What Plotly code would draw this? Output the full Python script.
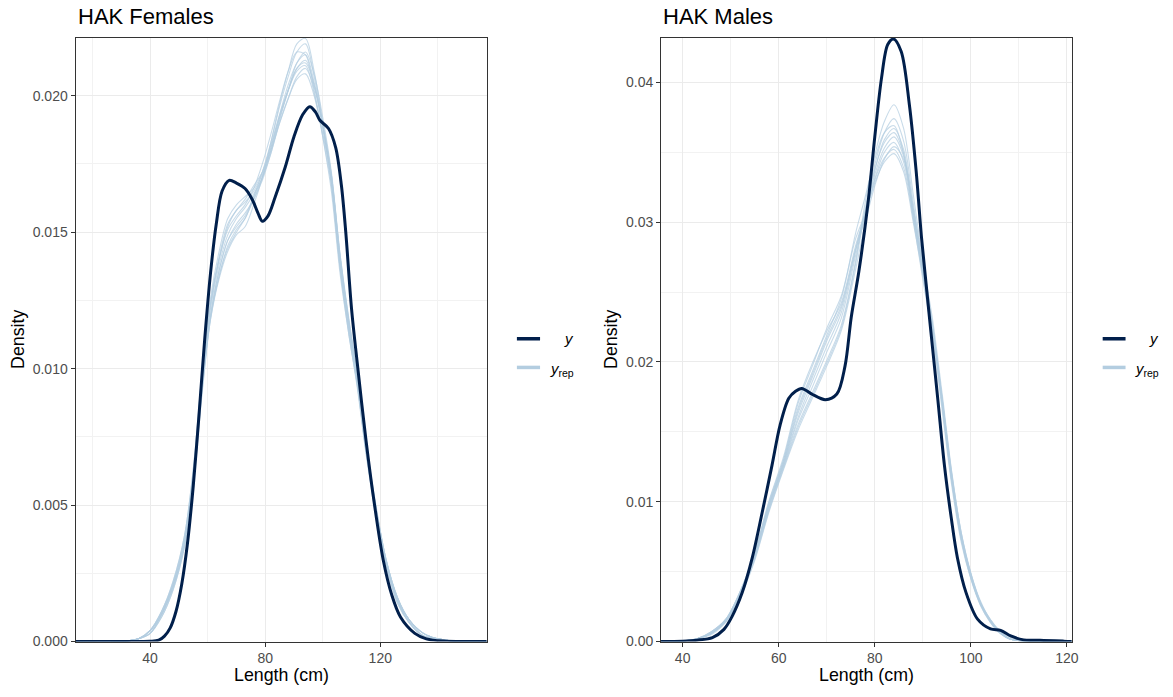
import plotly.graph_objects as go

# ---------------- data: HAK Females ----------------
fem_y_x = [14.1, 30, 40, 43, 45, 47, 49, 51, 53, 55, 57, 59, 61, 63, 65, 67.5, 70, 73, 75.5, 77.5,
           79, 81, 83.5, 87, 90, 93, 95.5, 97.5, 99, 102, 104.5, 106.5, 108, 110, 112, 115, 118,
           121, 124, 127, 132, 136, 142, 157]
fem_y = [0, 0, 0.00001, 0.00005, 0.0002, 0.0005, 0.0011, 0.0021, 0.0036, 0.0057, 0.0083, 0.0111,
         0.0135, 0.0153, 0.0165, 0.0169, 0.0168, 0.0166, 0.0162, 0.0157, 0.0154, 0.0156, 0.0163,
         0.0174, 0.0185, 0.0193, 0.0196, 0.0194, 0.0191, 0.0188, 0.0181, 0.0167, 0.0150, 0.0122,
         0.0102, 0.0074, 0.0050, 0.0030, 0.0017, 0.0009, 0.0003, 0.0001, 0.00002, 0]

fem_rep_x = [14.1, 30, 36, 40, 44, 48, 52, 55, 58, 61, 64, 67, 70, 73, 76, 79, 82, 85, 88, 91, 94,
             97, 100, 103, 106, 109, 112, 115, 118, 122, 126, 130, 135, 140, 147, 157]
fem_rep_a = [0, 0, 0.0001, 0.0004, 0.0011, 0.0021, 0.0038, 0.0061, 0.0093, 0.0118, 0.0133, 0.0143, 0.0149, 0.0152, 0.0160, 0.0170, 0.0183, 0.0197, 0.0209, 0.0219, 0.0221, 0.0209, 0.0190, 0.0168, 0.0138, 0.0114, 0.0094, 0.0070, 0.0050, 0.0029, 0.0015, 0.0008, 0.0003, 0.0001, 0, 0]
fem_rep_b = [0, 0, 0.0001, 0.0004, 0.0010, 0.0020, 0.0036, 0.0059, 0.0095, 0.0124, 0.0141, 0.0153, 0.0158, 0.0162, 0.0167, 0.0172, 0.0180, 0.0190, 0.0199, 0.0206, 0.0208, 0.0200, 0.0186, 0.0170, 0.0141, 0.0118, 0.0097, 0.0072, 0.0052, 0.0030, 0.0016, 0.0008, 0.0002, 0.0001, 0, 0]
fem_rep_c = [0, 0, 0.0001, 0.0003, 0.0009, 0.0019, 0.0035, 0.0057, 0.0090, 0.0119, 0.0136, 0.0147, 0.0153, 0.0157, 0.0162, 0.0169, 0.0179, 0.0191, 0.0202, 0.0212, 0.0216, 0.0208, 0.0192, 0.0172, 0.0142, 0.0118, 0.0098, 0.0073, 0.0053, 0.0030, 0.0016, 0.0008, 0.0003, 0.0001, 0, 0]
fem_rep_d = [0, 0, 0.0001, 0.0004, 0.0011, 0.0022, 0.0039, 0.0063, 0.0098, 0.0126, 0.0143, 0.0155, 0.0160, 0.0163, 0.0166, 0.0172, 0.0182, 0.0193, 0.0202, 0.0209, 0.0211, 0.0201, 0.0185, 0.0167, 0.0137, 0.0115, 0.0095, 0.0070, 0.0050, 0.0028, 0.0014, 0.0007, 0.0002, 0.0001, 0, 0]
fem_rep_e = [0, 0, 0.0001, 0.0003, 0.0010, 0.0020, 0.0036, 0.0059, 0.0092, 0.0119, 0.0134, 0.0145, 0.0151, 0.0155, 0.0163, 0.0172, 0.0183, 0.0196, 0.0207, 0.0216, 0.0219, 0.0207, 0.0189, 0.0168, 0.0137, 0.0113, 0.0094, 0.0070, 0.0051, 0.0029, 0.0015, 0.0008, 0.0003, 0.0001, 0, 0]
fem_rep_f = [0, 0, 0.0001, 0.0004, 0.0010, 0.0021, 0.0037, 0.0060, 0.0094, 0.0122, 0.0138, 0.0149, 0.0155, 0.0159, 0.0164, 0.0170, 0.0180, 0.0192, 0.0202, 0.0210, 0.0213, 0.0204, 0.0189, 0.0170, 0.0140, 0.0117, 0.0096, 0.0071, 0.0051, 0.0029, 0.0015, 0.0007, 0.0002, 0.0001, 0, 0]
fem_rep_g = [0, 0, 0.0001, 0.0004, 0.0011, 0.0022, 0.0039, 0.0063, 0.0097, 0.0124, 0.0140, 0.0151, 0.0156, 0.0160, 0.0166, 0.0175, 0.0186, 0.0198, 0.0209, 0.0216, 0.0215, 0.0202, 0.0185, 0.0165, 0.0135, 0.0113, 0.0093, 0.0069, 0.0049, 0.0028, 0.0014, 0.0007, 0.0002, 0.0001, 0, 0]
fem_rep_h = [0, 0, 0.0001, 0.0003, 0.0010, 0.0020, 0.0036, 0.0059, 0.0093, 0.0120, 0.0136, 0.0147, 0.0152, 0.0156, 0.0163, 0.0170, 0.0179, 0.0190, 0.0199, 0.0207, 0.0210, 0.0203, 0.0189, 0.0171, 0.0142, 0.0119, 0.0098, 0.0073, 0.0052, 0.0030, 0.0016, 0.0008, 0.0003, 0.0001, 0, 0]
fem_rep_i = [0, 0, 0.0001, 0.0004, 0.0010, 0.0021, 0.0038, 0.0061, 0.0096, 0.0123, 0.0140, 0.0152, 0.0158, 0.0161, 0.0165, 0.0171, 0.0181, 0.0193, 0.0204, 0.0212, 0.0215, 0.0205, 0.0188, 0.0169, 0.0139, 0.0116, 0.0096, 0.0071, 0.0051, 0.0029, 0.0015, 0.0007, 0.0002, 0.0001, 0, 0]
fem_rep_j = [0, 0, 0.0001, 0.0003, 0.0009, 0.0019, 0.0035, 0.0058, 0.0091, 0.0118, 0.0134, 0.0144, 0.0150, 0.0155, 0.0162, 0.0170, 0.0181, 0.0192, 0.0202, 0.0210, 0.0212, 0.0204, 0.0190, 0.0171, 0.0141, 0.0117, 0.0097, 0.0072, 0.0052, 0.0030, 0.0016, 0.0008, 0.0003, 0.0001, 0, 0]
fem_reps = [fem_rep_a, fem_rep_b, fem_rep_c, fem_rep_d, fem_rep_e, fem_rep_f, fem_rep_g,
            fem_rep_h, fem_rep_i, fem_rep_j]

# ---------------- data: HAK Males ----------------
mal_y_x = [35.5, 40, 43, 46.2, 48.6, 50.3, 52.4, 54.5, 56.6, 58.6, 60.3, 62.1, 63.5, 64.8, 66.9,
           69.7, 72.1, 73.8, 75.1, 76.7, 78.6, 80, 81.4, 82.7, 83.9, 85.5, 87.2, 88.6, 89.7, 90.5,
           91.7, 93.1, 94.5, 95.9, 97.2, 99.0, 101.4, 104.1, 106.2, 108.3, 111, 114.4, 119.3, 121]
mal_y = [0, 0.00003, 0.0001, 0.00028, 0.00087, 0.0018, 0.0035, 0.0060, 0.0093, 0.0126, 0.0155,
         0.0174, 0.0179, 0.0181, 0.0177, 0.0173, 0.0177, 0.0197, 0.0232, 0.0265, 0.0314, 0.0361,
         0.0403, 0.0427, 0.0431, 0.0422, 0.0384, 0.0337, 0.0290, 0.0262, 0.0221, 0.0174, 0.0126,
         0.0089, 0.0060, 0.0035, 0.0016, 0.0009, 0.0008, 0.0004, 0.00012, 0.0001, 0.00003, 0]

mal_rep_x = [35.5, 40, 43, 46, 49, 52, 55, 58, 61, 64, 67, 70, 73, 76, 78, 80, 82, 84, 86, 88, 90,
             92, 94, 96, 98, 100, 102, 104, 106, 108, 111, 115, 121]
mal_rep_a = [0, 0.00004, 0.0002, 0.0006, 0.0015, 0.0034, 0.0060, 0.0095, 0.0125, 0.0155, 0.0178, 0.0201, 0.0226, 0.0272, 0.0314, 0.0348, 0.0372, 0.0384, 0.0367, 0.0320, 0.0272, 0.0227, 0.0170, 0.0115, 0.0073, 0.0046, 0.0027, 0.0015, 0.0007, 0.0002, 0.00005, 0, 0]
mal_rep_b = [0, 0.00005, 0.0002, 0.0007, 0.0016, 0.0036, 0.0063, 0.0099, 0.0130, 0.0170, 0.0197, 0.0224, 0.0247, 0.0288, 0.0306, 0.0328, 0.0343, 0.0349, 0.0336, 0.0300, 0.0262, 0.0224, 0.0174, 0.0120, 0.0078, 0.0049, 0.0028, 0.0016, 0.0007, 0.0002, 0.00005, 0, 0]
mal_rep_c = [0, 0.00004, 0.0002, 0.0006, 0.0015, 0.0035, 0.0062, 0.0098, 0.0126, 0.0158, 0.0182, 0.0207, 0.0231, 0.0276, 0.0305, 0.0337, 0.0359, 0.0367, 0.0352, 0.0310, 0.0266, 0.0224, 0.0171, 0.0116, 0.0074, 0.0046, 0.0027, 0.0015, 0.0007, 0.0002, 0.00005, 0, 0]
mal_rep_d = [0, 0.00005, 0.0002, 0.0007, 0.0016, 0.0036, 0.0064, 0.0101, 0.0132, 0.0172, 0.0199, 0.0222, 0.0242, 0.0283, 0.0306, 0.0331, 0.0350, 0.0357, 0.0343, 0.0305, 0.0265, 0.0226, 0.0174, 0.0119, 0.0076, 0.0048, 0.0028, 0.0015, 0.0007, 0.0002, 0.00005, 0, 0]
mal_rep_e = [0, 0.00004, 0.0002, 0.0006, 0.0014, 0.0033, 0.0059, 0.0094, 0.0124, 0.0153, 0.0176, 0.0199, 0.0224, 0.0270, 0.0309, 0.0341, 0.0364, 0.0374, 0.0358, 0.0314, 0.0268, 0.0225, 0.0170, 0.0115, 0.0073, 0.0045, 0.0026, 0.0014, 0.0006, 0.0002, 0.00005, 0, 0]
mal_rep_f = [0, 0.00004, 0.0002, 0.0006, 0.0015, 0.0034, 0.0061, 0.0097, 0.0128, 0.0163, 0.0189, 0.0215, 0.0238, 0.0281, 0.0306, 0.0334, 0.0353, 0.0361, 0.0347, 0.0307, 0.0265, 0.0225, 0.0173, 0.0118, 0.0075, 0.0047, 0.0027, 0.0015, 0.0007, 0.0002, 0.00005, 0, 0]
mal_rep_g = [0, 0.00003, 0.0002, 0.0005, 0.0014, 0.0032, 0.0058, 0.0093, 0.0123, 0.0151, 0.0174, 0.0197, 0.0222, 0.0266, 0.0299, 0.0326, 0.0345, 0.0354, 0.0345, 0.0310, 0.0271, 0.0231, 0.0178, 0.0122, 0.0078, 0.0049, 0.0029, 0.0016, 0.0008, 0.0003, 0.00006, 0, 0]
mal_rep_h = [0, 0.00005, 0.0002, 0.0007, 0.0016, 0.0036, 0.0063, 0.0100, 0.0130, 0.0167, 0.0193, 0.0219, 0.0245, 0.0292, 0.0318, 0.0345, 0.0364, 0.0369, 0.0349, 0.0303, 0.0259, 0.0219, 0.0166, 0.0112, 0.0071, 0.0045, 0.0026, 0.0014, 0.0006, 0.0002, 0.00004, 0, 0]
mal_rep_i = [0, 0.00004, 0.0002, 0.0006, 0.0015, 0.0034, 0.0061, 0.0096, 0.0127, 0.0160, 0.0186, 0.0211, 0.0235, 0.0279, 0.0308, 0.0338, 0.0357, 0.0364, 0.0349, 0.0307, 0.0264, 0.0224, 0.0172, 0.0117, 0.0075, 0.0047, 0.0027, 0.0015, 0.0007, 0.0002, 0.00005, 0, 0]
mal_rep_j = [0, 0.00004, 0.0002, 0.0006, 0.0015, 0.0035, 0.0062, 0.0098, 0.0128, 0.0165, 0.0191, 0.0217, 0.0240, 0.0280, 0.0303, 0.0330, 0.0346, 0.0352, 0.0339, 0.0303, 0.0264, 0.0226, 0.0175, 0.0121, 0.0077, 0.0048, 0.0028, 0.0016, 0.0007, 0.0002, 0.00005, 0, 0]
mal_reps = [mal_rep_a, mal_rep_b, mal_rep_c, mal_rep_d, mal_rep_e, mal_rep_f, mal_rep_g,
            mal_rep_h, mal_rep_i, mal_rep_j]

panel_titles = ["HAK Females", "HAK Males"]
x_title = "Length (cm)"
y_title = "Density"
legend_labels = ["<i>y</i>", "<i>y</i><sub>rep</sub>"]

# ---------------- styling ----------------
W, H = 1173, 697
DARK = "#011f4b"
LIGHT = "rgba(179,205,224,0.72)"
LIGHT_KEY = "#b3cde0"
FONT = "Liberation Sans, Arial, Helvetica, sans-serif"

fig = go.Figure()

def add_panel(xref, yref, rep_x, reps, y_x, y_vals):
    for r in reps:
        fig.add_trace(go.Scatter(x=rep_x, y=r, mode="lines", xaxis=xref, yaxis=yref,
                                 line=dict(color=LIGHT, width=1.1, shape="spline", smoothing=0.9),
                                 showlegend=False, hoverinfo="skip"))
    fig.add_trace(go.Scatter(x=y_x, y=y_vals, mode="lines", xaxis=xref, yaxis=yref,
                             line=dict(color=DARK, width=3, shape="spline", smoothing=0.9),
                             showlegend=False, hoverinfo="skip"))

add_panel("x", "y", fem_rep_x, fem_reps, fem_y_x, fem_y)
add_panel("x2", "y2", mal_rep_x, mal_reps, mal_y_x, mal_y)

px = lambda v: v / W
py = lambda v: 1 - v / H

ydom = [py(649), py(38.3)]

def axis_common():
    return dict(showline=True, mirror=True, linecolor="#333333", linewidth=1,
                ticks="outside", ticklen=4, tickcolor="#333333", tickwidth=1,
                showgrid=True, gridcolor="#ebebeb", gridwidth=1.1, zeroline=False,
                tickfont=dict(family=FONT, size=14, color="#4d4d4d"))

fig.update_layout(
    width=W, height=H, margin=dict(l=0, r=0, t=0, b=0, pad=0),
    paper_bgcolor="white", plot_bgcolor="white", showlegend=False,
    xaxis=dict(domain=[px(76), px(489.7)], range=[14.1, 157], tickvals=[40, 80, 120],
               minor=dict(tickvals=[20, 60, 100, 140], showgrid=True, gridcolor="#f2f2f2",
                          gridwidth=0.6, ticks=""),
               anchor="y", **axis_common()),
    yaxis=dict(domain=ydom, range=[0, 0.02212],
               tickvals=[0, 0.005, 0.01, 0.015, 0.02],
               ticktext=["0.000", "0.005", "0.010", "0.015", "0.020"],
               minor=dict(tickvals=[0.0025, 0.0075, 0.0125, 0.0175], showgrid=True,
                          gridcolor="#f2f2f2", gridwidth=0.6, ticks=""),
               anchor="x", **axis_common()),
    xaxis2=dict(domain=[px(665), px(1078.3)], range=[35.5, 121.03],
                tickvals=[40, 60, 80, 100, 120],
                minor=dict(tickvals=[50, 70, 90, 110], showgrid=True, gridcolor="#f2f2f2",
                           gridwidth=0.6, ticks=""),
                anchor="y2", **axis_common()),
    yaxis2=dict(domain=ydom, range=[0, 0.04318],
                tickvals=[0, 0.01, 0.02, 0.03, 0.04],
                ticktext=["0.00", "0.01", "0.02", "0.03", "0.04"],
                minor=dict(tickvals=[0.005, 0.015, 0.025, 0.035], showgrid=True,
                           gridcolor="#f2f2f2", gridwidth=0.6, ticks=""),
                anchor="x2", **axis_common()),
)

annotations = []
shapes = []
for i, (left, right, ytx, legx0, legx1, legtx) in enumerate([
        (76, 489.7, 17.5, 520, 543.3, 579.5),
        (665, 1078.3, 614, 1109.3, 1132.3, 1167.5)]):
    annotations.append(dict(text=panel_titles[i], x=px(left), y=py(17), xref="paper", yref="paper",
                            xanchor="left", yanchor="middle", showarrow=False,
                            font=dict(family=FONT, size=22, color="black")))
    annotations.append(dict(text=x_title, x=px((left + right) / 2), y=py(683), xref="paper",
                            yref="paper", xanchor="center", yanchor="middle", showarrow=False,
                            font=dict(family=FONT, size=17.8, color="black")))
    annotations.append(dict(text=y_title, x=px(ytx), y=py(343.5), xref="paper", yref="paper",
                            xanchor="center", yanchor="middle", textangle=-90, showarrow=False,
                            font=dict(family=FONT, size=17.8, color="black")))
    # legend keys
    shapes.append(dict(type="line", xref="paper", yref="paper", x0=px(legx0), x1=px(legx1),
                       y0=py(342.7), y1=py(342.7), line=dict(color=DARK, width=3.5)))
    shapes.append(dict(type="line", xref="paper", yref="paper", x0=px(legx0), x1=px(legx1),
                       y0=py(371.7), y1=py(371.7), line=dict(color=LIGHT_KEY, width=3.5)))
    annotations.append(dict(text=legend_labels[0], x=px(legtx), y=py(342.7), xref="paper",
                            yref="paper", xanchor="right", yanchor="middle", showarrow=False,
                            font=dict(family=FONT, size=15, color="black")))
    annotations.append(dict(text=legend_labels[1], x=px(legtx), y=py(374), xref="paper",
                            yref="paper", xanchor="right", yanchor="middle", showarrow=False,
                            font=dict(family=FONT, size=15, color="black")))

fig.update_layout(annotations=annotations, shapes=shapes)
fig.write_html("out.html")
